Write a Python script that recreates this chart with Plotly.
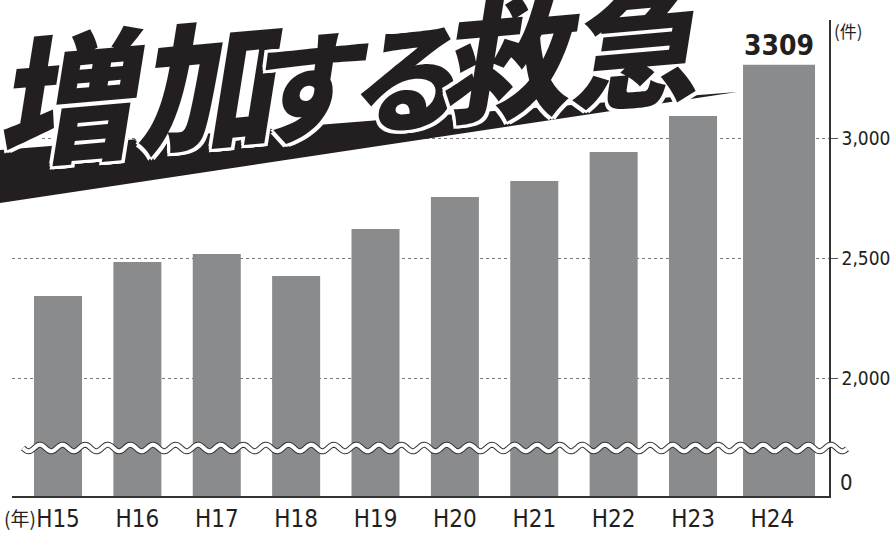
import numpy as np
import plotly.graph_objects as go

# ---- data ----
years = ["H15", "H16", "H17", "H18", "H19", "H20", "H21", "H22", "H23", "H24"]
counts = [2345, 2486, 2520, 2428, 2624, 2757, 2824, 2945, 3095, 3309]
y_tickvals = [2000, 2500, 3000]
y_ticktext = ["2,000", "2,500", "3,000"]
zero_label = "0"
unit_label = "(件)"
year_label = "(年)"
title_parts = ["増加", "す", "る", "救急"]

# ---- layout helpers (pixel -> paper) ----
W, H = 890, 540
L, R, T, B = 12, 829, 20, 496
def px(x):
    return (x - L) / (R - L)
def py(y):
    return (B - y) / (B - T)

NARROW = "DejaVu Sans Condensed, Liberation Sans Narrow, sans-serif"
INK = "#231f20"
BAR = "#8a8b8d"

bar_widths = [0.605] * 9 + [0.907]
bar_offsets = [-0.3025] * 9 + [-0.370]
bar_text = [""] * (len(counts) - 1) + [str(counts[-1])]

fig = go.Figure()
fig.add_trace(go.Bar(
    x=years, y=counts, width=bar_widths, offset=bar_offsets,
    marker=dict(color=BAR, line=dict(width=0)),
    text=bar_text, textposition="outside", cliponaxis=False,
    textfont=dict(family=NARROW, size=28, color=INK, weight="bold"),
    hoverinfo="skip",
))

shapes = []
# slanted black band behind title
band = [(0, 150), (737, 92), (0, 203)]
path = "M " + " L ".join(f"{px(a):.5f},{py(b):.5f}" for a, b in band) + " Z"
shapes.append(dict(type="path", xref="paper", yref="paper", path=path,
                   fillcolor=INK, line=dict(width=0), layer="above"))

# wavy break line
xs = np.linspace(23, 847, 600)
ys = 448 + 3.3 * np.sin(2 * np.pi * (xs - 23) / 22.6)
wpath = "M " + " L ".join(f"{px(a):.5f},{py(b):.5f}" for a, b in zip(xs, ys))
shapes.append(dict(type="path", xref="paper", yref="paper", path=wpath,
                   line=dict(color="#333333", width=6), layer="above"))
shapes.append(dict(type="path", xref="paper", yref="paper", path=wpath,
                   line=dict(color="white", width=4), layer="above"))

outline = ",".join(f"{dx}px {dy}px 0 #fff" for dx in (-3, 0, 3) for dy in (-3, 0, 3) if (dx, dy) != (0, 0))
def tfont(s):
    return dict(family="Noto Sans CJK JP", size=s, color=INK, weight=900,
                style="italic", shadow=outline)

def ann(text, x, y, font, **kw):
    d = dict(text=text, x=px(x), y=py(y), xref="paper", yref="paper",
             xanchor="center", yanchor="middle", showarrow=False, font=font)
    d.update(kw)
    return d

annotations = [
    ann(title_parts[0], 139, 84, tfont(140), textangle=-5),
    ann(title_parts[1], 306, 80, tfont(118), textangle=-5),
    ann(title_parts[2], 400, 72, tfont(116), textangle=-5),
    ann(title_parts[3], 565, 46, tfont(130), textangle=-5),
    ann(unit_label, 848, 30, dict(family="Noto Sans CJK JP", size=17, color=INK)),
    ann(year_label, 20, 517, dict(family="Noto Sans CJK JP", size=19, color=INK)),
    ann(zero_label, 838, 497, dict(family=NARROW, size=22, color=INK),
        xanchor="left", yanchor="bottom"),
]

fig.update_layout(
    width=W, height=H,
    margin=dict(l=L, r=W - R, t=T, b=H - B, autoexpand=False),
    paper_bgcolor="white", plot_bgcolor="white",
    showlegend=False,
    shapes=shapes, annotations=annotations,
    xaxis=dict(
        type="category", range=[-0.5795, 9.713], automargin=False,
        showline=True, linecolor="#333333", linewidth=1.5,
        ticks="", showgrid=False, zeroline=False,
        tickfont=dict(family=NARROW, size=24, color=INK),
        fixedrange=True,
    ),
    yaxis=dict(
        side="right", range=[1511, 3495], automargin=False,
        tickvals=y_tickvals, ticktext=y_ticktext,
        ticks="outside", ticklen=7, tickcolor="#555555", tickwidth=1,
        showline=True, linecolor="#333333", linewidth=1.5,
        showgrid=True, gridcolor="#777777", griddash="dot", gridwidth=1,
        zeroline=False,
        tickfont=dict(family=NARROW, size=19, color=INK),
        fixedrange=True,
    ),
)

fig.write_html("out.html", config={"displayModeBar": False},
               post_script="document.body.style.margin='0';document.body.style.overflow='hidden';")
